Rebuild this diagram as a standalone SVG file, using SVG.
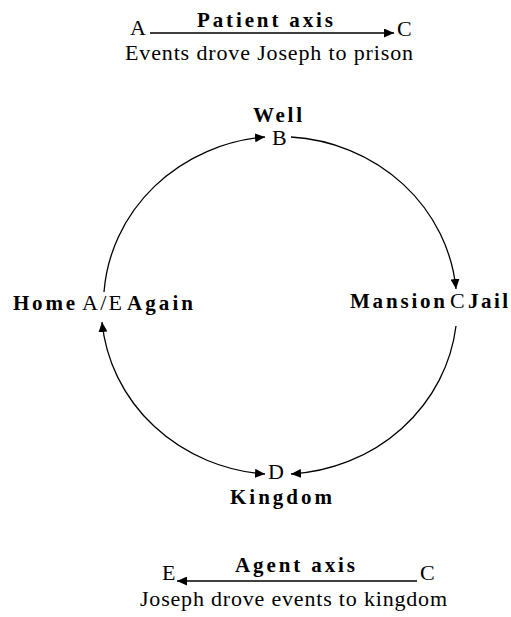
<svg xmlns="http://www.w3.org/2000/svg" width="511" height="617" viewBox="0 0 511 617">
<style>
.t{font-family:"Liberation Serif","Times New Roman",serif;font-size:22px;fill:#000}
.b{font-family:"Liberation Serif","Times New Roman",serif;font-size:21px;font-weight:bold;fill:#000}
.ln{fill:none;stroke:#000;stroke-width:1.3}
</style>
<defs>
<marker id="ah" markerUnits="userSpaceOnUse" markerWidth="11" markerHeight="9" refX="10" refY="4.5" orient="auto-start-reverse">
<path d="M0,0 L10,4.5 L0,9 z" fill="#000"/>
</marker>
</defs>
<rect width="511" height="617" fill="#fff"/>
<g id="patient-axis">
<text class="t" x="130" y="35">A</text>
<text class="b" x="197" y="27" textLength="136" lengthAdjust="spacing">Patient axis</text>
<text class="t" x="397" y="36">C</text>
<text class="t" x="125" y="60" textLength="288" lengthAdjust="spacing">Events drove Joseph to prison</text>
</g>
<g id="node-B">
<text class="b" x="253" y="122" textLength="49" lengthAdjust="spacing">Well</text>
<text class="t" x="272" y="145">B</text>
</g>
<g id="node-AE">
<text class="b" x="13" y="310" textLength="62" lengthAdjust="spacing">Home</text>
<text class="t" x="82" y="310" textLength="40" lengthAdjust="spacing">A/E</text>
<text class="b" x="127" y="310" textLength="66" lengthAdjust="spacing">Again</text>
</g>
<g id="node-C">
<text class="b" x="350" y="308" textLength="95" lengthAdjust="spacing">Mansion</text>
<text class="t" x="450" y="308">C</text>
<text class="b" x="468" y="308" textLength="40" lengthAdjust="spacing">Jail</text>
</g>
<g id="node-D">
<text class="t" x="268" y="479">D</text>
<text class="b" x="230" y="504" textLength="102" lengthAdjust="spacing">Kingdom</text>
</g>
<g id="agent-axis">
<text class="t" x="162" y="580">E</text>
<text class="b" x="235" y="572" textLength="120" lengthAdjust="spacing">Agent axis</text>
<text class="t" x="420" y="580">C</text>
<text class="t" x="140" y="606" textLength="307" lengthAdjust="spacing">Joseph drove events to kingdom</text>
</g>
<g id="connectors">
<path class="ln" d="M150,33 L394,33" marker-end="url(#ah)"/>
<path class="ln" d="M417,581 L177,581" marker-end="url(#ah)"/>
<path class="ln" d="M104,292 A177,168 0 0 1 265,137" marker-end="url(#ah)"/>
<path class="ln" d="M291,137 A177,168 0 0 1 456,289" marker-end="url(#ah)"/>
<path class="ln" d="M456,326 A177,168 0 0 1 291,474" marker-end="url(#ah)"/>
<path class="ln" d="M265,474 A177,168 0 0 1 102,322" marker-start="url(#ah)" marker-end="url(#ah)"/>
</g>
</svg>
